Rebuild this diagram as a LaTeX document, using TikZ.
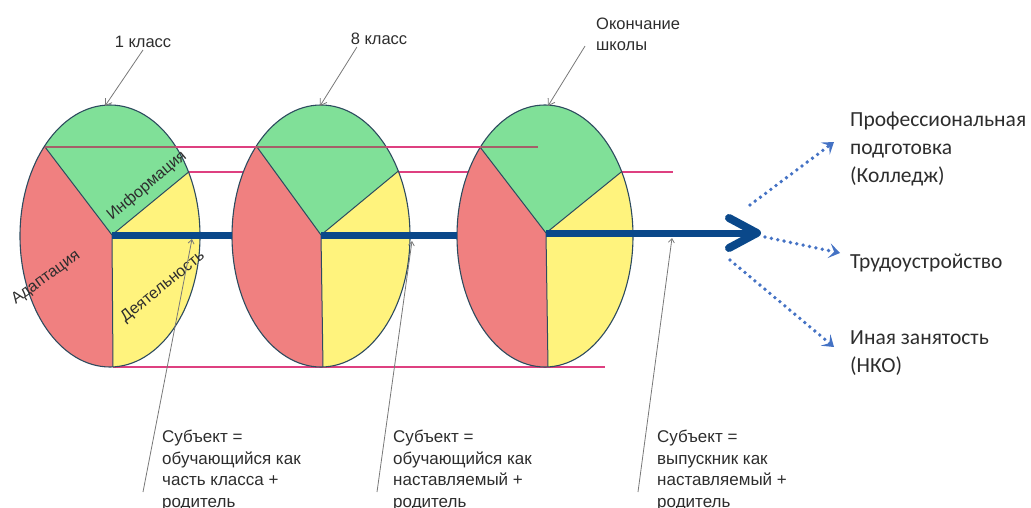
\documentclass[tikz,border=0pt]{standalone}
\usepackage{fontspec}
\setmainfont{Liberation Sans}
\newfontfamily\calib{Carlito}
\usetikzlibrary{arrows.meta,calc}
\definecolor{pgreen}{RGB}{128,224,152}
\definecolor{pred}{RGB}{240,128,128}
\definecolor{pyellow}{RGB}{255,243,125}
\definecolor{edgec}{RGB}{45,75,95}
\definecolor{pinkc}{RGB}{222,64,128}
\definecolor{brownc}{RGB}{165,95,105}
\definecolor{mainblue}{RGB}{10,72,138}
\definecolor{dotblue}{RGB}{68,114,196}
\definecolor{ptrgray}{RGB}{120,120,120}
\definecolor{txt}{RGB}{45,45,45}
\begin{document}
\begin{tikzpicture}[x=1pt,y=-1pt,
  lab/.style={font=\fontsize{16.5}{21}\selectfont, text=txt, inner sep=2pt},
  sub/.style={font=\fontsize{17}{21.5}\selectfont, text=txt, inner sep=0pt, anchor=north west, align=left},
  rlab/.style={font=\calib\fontsize{21.5}{28}\selectfont, text=txt, inner sep=0pt, anchor=north west, align=left},
  inlab/.style={font=\fontsize{16}{19}\selectfont, text=txt, inner sep=0pt},
  ptr/.style={draw=ptrgray, line width=0.8pt, -{Straight Barb[length=6pt,width=8pt]}},
  pinkline/.style={draw=pinkc, line width=1.4pt},
  divline/.style={draw=edgec, line width=1pt},
  outline/.style={draw=edgec, line width=1.1pt},
  blueline/.style={draw=mainblue, line width=7pt},
  chevron/.style={draw=mainblue, line width=8pt, line cap=round, line join=round},
  dotarrow/.style={draw=dotblue, line width=3.8pt, line cap=round, dash pattern=on 0pt off 6.5pt,
     -{Stealth[length=11pt,width=15pt,inset=5pt]}}
]
\useasboundingbox (0,0) rectangle (1031,508);

% pink lines behind the ellipses
\coordinate (pk1) at (185,172);
\coordinate (pk2) at (673,172);
\coordinate (pb1) at (113,367);
\coordinate (pb2) at (605,367);
\draw[pinkline] (pk1) -- (pk2);
\draw[pinkline] (pb1) -- (pb2);

% the three divided ellipses
\foreach \i/\cx/\ea/\tx/\jx/\jy/\ux/\uy/\qx/\qy/\bx/\by in {
 1/110/90/105/112/235/45/147/185/175/113/367,
 2/321/89/320/321/235/257/147/396/173/323/367,
 3/545/88/548/546/233/480/147/620/173/548/367}{
  \coordinate (J\i) at (\jx,\jy);
  \coordinate (U\i) at ($(J\i)!2!(\ux,\uy)$);
  \coordinate (Q\i) at ($(J\i)!2!(\qx,\qy)$);
  \coordinate (B\i) at ($(J\i)!2!(\bx,\by)$);
  \coordinate (T\i) at (\tx,106);
  \coordinate (W\i) at (\cx-\ea,235);
  \begin{scope}
    \clip (\cx,236) ellipse [x radius=\ea, y radius=131];
    \fill[pyellow] (\cx-120,80) rectangle (\cx+120,390);
    \fill[pred] (J\i) -- (U\i) -- ($(U\i)+(-300,0)$) -- ($(B\i)+(-300,0)$) -- (B\i) -- cycle;
    \fill[pgreen] (J\i) -- (U\i) -- ($(U\i)+(0,-200)$) -- ($(Q\i)+(0,-200)$) -- (Q\i) -- cycle;
    \draw[divline] (U\i) -- (J\i) -- (Q\i) (J\i) -- (B\i);
  \end{scope}
  \draw[outline] (\cx,236) ellipse [x radius=\ea, y radius=131];
}

% top pink line (brownish where it crosses the ellipses)
\coordinate (pt1) at (45,147);
\coordinate (pt2) at (538,147);
\draw[pinkline] (pt1) -- (pt2);
\foreach \cx/\ea in {110/90,321/89,545/88}{
  \begin{scope}
    \clip (\cx,236) ellipse [x radius=\ea, y radius=131];
    \draw[draw=brownc, line width=1.4pt] (pt1) -- (pt2);
  \end{scope}
}

% main blue arrow
\coordinate (tip) at (757,233);
\coordinate (shaftend) at (752,233);
\draw[blueline] (J1) -- (W2);
\draw[blueline] (J2) -- (W3);
\draw[blueline] (J3) -- (shaftend);
\draw[chevron] ($(tip)+(-28,-15)$) -- (tip) -- ($(tip)+(-28,15)$);

% labels inside the first ellipse
\node[inlab, rotate=40] (info) at (147,186) {Информация};
\node[inlab, rotate=39] (deyat) at (163,287) {Деятельность};
\node[inlab, rotate=36] (adapt) at (46,278) {Адаптация};

% top labels
\node[lab] (l1) at (143,42) {1 класс};
\node[lab] (l2) at (379,39) {8 класс};
\node[lab, anchor=north west, align=left, inner sep=0pt] (l3) at (596,18) {Окончание\\школы};
\draw[ptr] (l1.south) -- (T1);
\draw[ptr] (l2.200) -- (T2);
\draw[ptr] ($(l3.south west)+(-11,-5)$) -- (T3);

% bottom texts
\node[sub] (s1) at (162,430) {Субъект =\\обучающийся как\\часть класса +\\родитель};
\node[sub] (s2) at (393,430) {Субъект =\\обучающийся как\\наставляемый +\\родитель};
\node[sub] (s3) at (657,430) {Субъект =\\выпускник как\\наставляемый +\\родитель};
\coordinate (A1) at (192,239);
\coordinate (A2) at (412,241);
\coordinate (A3) at (672,238);
\draw[ptr, -{Straight Barb[length=4pt,width=6pt]}] ($(s1.north west)+(-19,62)$) -- (A1);
\draw[ptr, -{Straight Barb[length=4pt,width=6pt]}] ($(s2.north west)+(-16,62)$) -- (A2);
\draw[ptr, -{Straight Barb[length=4pt,width=6pt]}] ($(s3.north west)+(-19,62)$) -- (A3);

% right outcomes
\node[rlab] (prof) at (850,112) {Профессиональная\\подготовка\\(Колледж)};
\node[rlab] (trud) at (850,254) {Трудоустройство};
\node[rlab] (inaya) at (850,331) {Иная занятость\\(НКО)};
\coordinate (D1) at (750,205);
\coordinate (D2) at (765,237);
\coordinate (D3) at (730,260);
\draw[dotarrow] (D1) -- ($(prof.north west)+(-16,30)$);
\draw[dotarrow] (D2) -- ($(trud.north west)+(-10,-1)$);
\draw[dotarrow] (D3) -- ($(inaya.north west)+(-16,16)$);
\end{tikzpicture}
\end{document}
